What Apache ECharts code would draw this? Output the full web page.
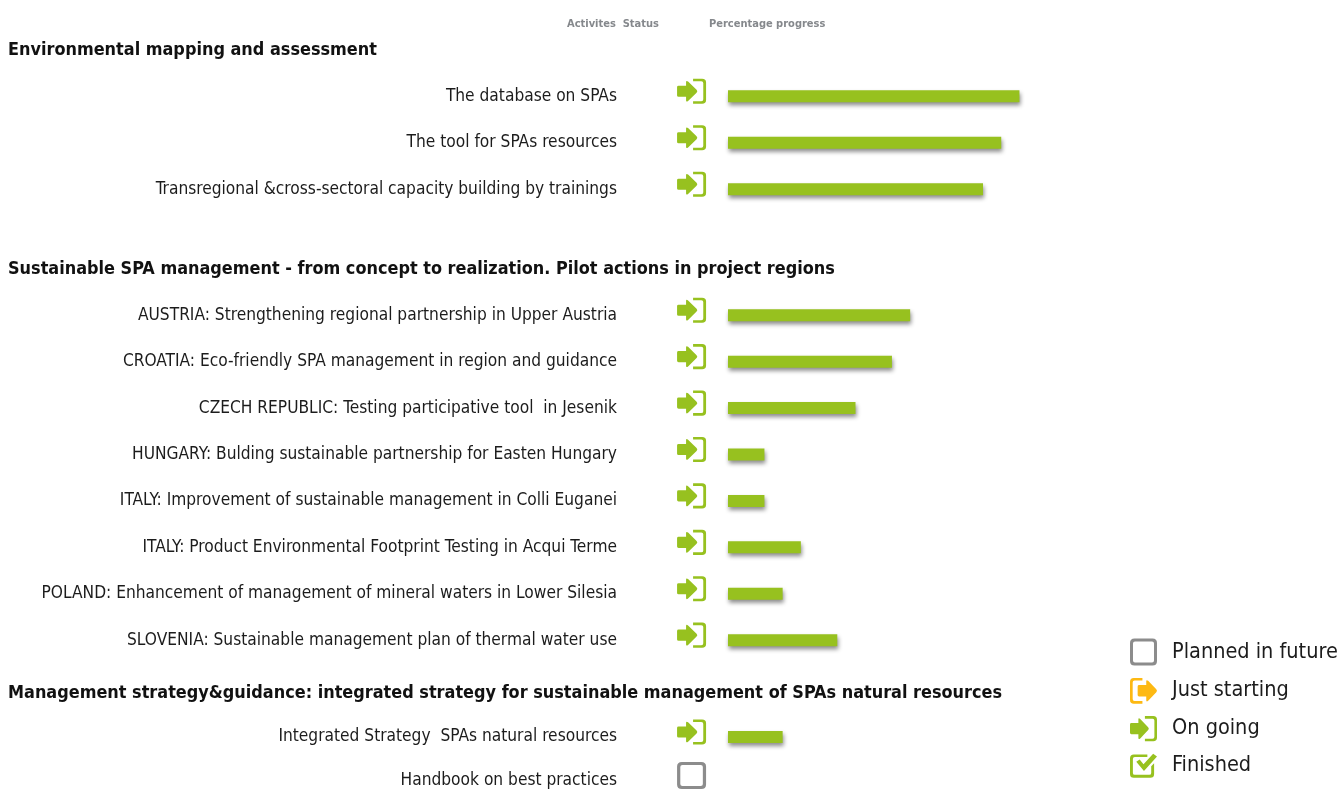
<!DOCTYPE html>
<html><head><meta charset="utf-8">
<style>html,body{margin:0;padding:0;background:#fff}#c{width:1341px;height:789px}</style>
<script src="https://cdn.jsdelivr.net/npm/echarts@6/dist/echarts.min.js"></script></head>
<body><div id="c"></div>
<script>
const sectionTitles = [
  'Environmental mapping and assessment',
  'Sustainable SPA management - from concept to realization. Pilot actions in project regions',
  'Management strategy&guidance: integrated strategy for sustainable management of SPAs natural resources'
];
const activities1 = ['The database on SPAs','The tool for SPAs resources','Transregional &cross-sectoral capacity building by trainings'];
const progress1 = [80,75,70];
const status1 = ['On going','On going','On going'];
const activities2 = [
  'AUSTRIA: Strengthening regional partnership in Upper Austria',
  'CROATIA: Eco-friendly SPA management in region and guidance',
  'CZECH REPUBLIC: Testing participative tool  in Jesenik',
  'HUNGARY: Bulding sustainable partnership for Easten Hungary',
  'ITALY: Improvement of sustainable management in Colli Euganei',
  'ITALY: Product Environmental Footprint Testing in Acqui Terme',
  'POLAND: Enhancement of management of mineral waters in Lower Silesia',
  'SLOVENIA: Sustainable management plan of thermal water use'
];
const progress2 = [50,45,35,10,10,20,15,30];
const status2 = ['On going','On going','On going','On going','On going','On going','On going','On going'];
const activities3 = ['Integrated Strategy  SPAs natural resources','Handbook on best practices'];
const progress3 = [15,null];
const status3 = ['On going','Planned in future'];
const statusNames = ['Planned in future','Just starting','On going','Finished'];
const columnHeaders = ['Activites  Status','Percentage progress'];

const GREEN='#97c11f', AMBER='#fdb913', GREY='#8c8c8c';
const bracketR='M16 0H25Q29 0 29 4V23Q29 27 25 27H16V24.2H24.2Q26.2 24.2 26.2 22.2V4.8Q26.2 2.8 24.2 2.8H16Z';
const arrowR='M1.5 7.5H9V3.5Q9 1.5 11 3L19.5 12Q21 13.5 19.5 15L11 24Q9 25.5 9 23.5V19.5H1.5Q0 19.5 0 18V9Q0 7.5 1.5 7.5Z';
const bracketL='M13 0H4Q0 0 0 4V23Q0 27 4 27H13V24.2H4.8Q2.8 24.2 2.8 22.2V4.8Q2.8 2.8 4.8 2.8H13Z';
const arrowL='M9.5 7.5H17V3.5Q17 1.5 19 3L27.5 12Q29 13.5 27.5 15L19 24Q17 25.5 17 23.5V19.5H9.5Q8 19.5 8 18V9Q8 7.5 9.5 7.5Z';
const boxOuter='M4.5 0H22.5Q27 0 27 4.5V22.5Q27 27 22.5 27H4.5Q0 27 0 22.5V4.5Q0 0 4.5 0Z';
const boxInner='M5 3Q3 3 3 5V22Q3 24 5 24H22Q24 24 24 22V5Q24 3 22 3Z';
const checkBox='M4 3H18V5.6H5Q3 5.6 3 7.6V22Q3 24 5 24H20Q22 24 22 22V15L25 12V23Q25 27 21 27H4Q0 27 0 23V7Q0 3 4 3Z';
const checkMark='M6.5 10.5L10 8L14 13L24 2L28 5L14.5 20Z';
const icons={
  'Planned in future':'path://'+boxOuter+boxInner,
  'Just starting':'path://'+bracketL+arrowL,
  'On going':'path://'+bracketR+arrowR,
  'Finished':'path://'+checkBox+checkMark
};
const colors={'Planned in future':GREY,'Just starting':AMBER,'On going':GREEN,'Finished':GREEN};
const ICON_COL=-10;
const font='"DejaVu Sans Condensed", Tahoma, "DejaVu Sans", sans-serif';
const sections=[
  {names:activities1,vals:progress1,st:status1,top:73,h:139.5,gap:true},
  {names:activities2,vals:progress2,st:status2,top:292,h:371.4,gap:true},
  {names:activities3,vals:progress3,st:status3,top:737,h:44,gap:false}
];
const grid=[],xAxis=[],yAxis=[],series=[];
sections.forEach((s,i)=>{
  grid.push({left:677,width:415.3,top:s.top,height:s.h});
  xAxis.push({gridIndex:i,type:'value',min:-14,max:100,show:false});
  yAxis.push({gridIndex:i,type:'category',inverse:true,data:s.names,boundaryGap:s.gap,
    axisLine:{show:false},axisTick:{show:false},splitLine:{show:false},
    axisLabel:{margin:60,fontFamily:font,fontSize:17.2,color:'#1c1c1c',interval:0,align:'right',padding:[5,0,0,0]}});
  series.push({type:'bar',xAxisIndex:i,yAxisIndex:i,data:s.vals,barWidth:12,silent:true,clip:false,
    itemStyle:{color:GREEN,shadowColor:'rgba(0,0,0,0.45)',shadowBlur:4,shadowOffsetY:3,shadowOffsetX:1}});
  statusNames.forEach(n=>{
    series.push({type:'scatter',name:n,xAxisIndex:i,yAxisIndex:i,symbol:icons[n],symbolSize:[29,27],symbolKeepAspect:true,clip:false,
      symbolOffset:[0,-5],itemStyle:{color:colors[n],opacity:1},
      data:s.st.map((v,k)=>v===n?[ICON_COL,k]:null).filter(Boolean)});
  });
});
const heading=(text,top)=>({text,left:8,top,padding:0,textStyle:{fontFamily:font,fontSize:17.9,fontWeight:'bold',color:'#111'}});
const title=[
  heading(sectionTitles[0],41),heading(sectionTitles[1],260),heading(sectionTitles[2],684),
  {text:columnHeaders[0],left:567,top:19,padding:0,textStyle:{fontFamily:font,fontSize:11,fontWeight:'bold',color:'#85888c'}},
  {text:columnHeaders[1],left:709,top:19,padding:0,textStyle:{fontFamily:font,fontSize:11,fontWeight:'bold',color:'#85888c'}}
];
const chart=echarts.init(document.getElementById('c'),null,{renderer:'canvas'});
chart.setOption({animation:false,backgroundColor:'#fff',title,grid,xAxis,yAxis,series,
  tooltip:{show:false},
  legend:{orient:'vertical',left:1130,top:638.5,itemWidth:27,itemHeight:27,itemGap:12.4,padding:0,itemStyle:{opacity:1},
    selectedMode:false,
    data:statusNames.map(n=>({name:n,icon:icons[n],itemStyle:{color:colors[n]}})),
    textStyle:{fontFamily:font,fontSize:21.5,color:'#1c1c1c',padding:[0,0,0,10]}}
});
</script></body></html>
